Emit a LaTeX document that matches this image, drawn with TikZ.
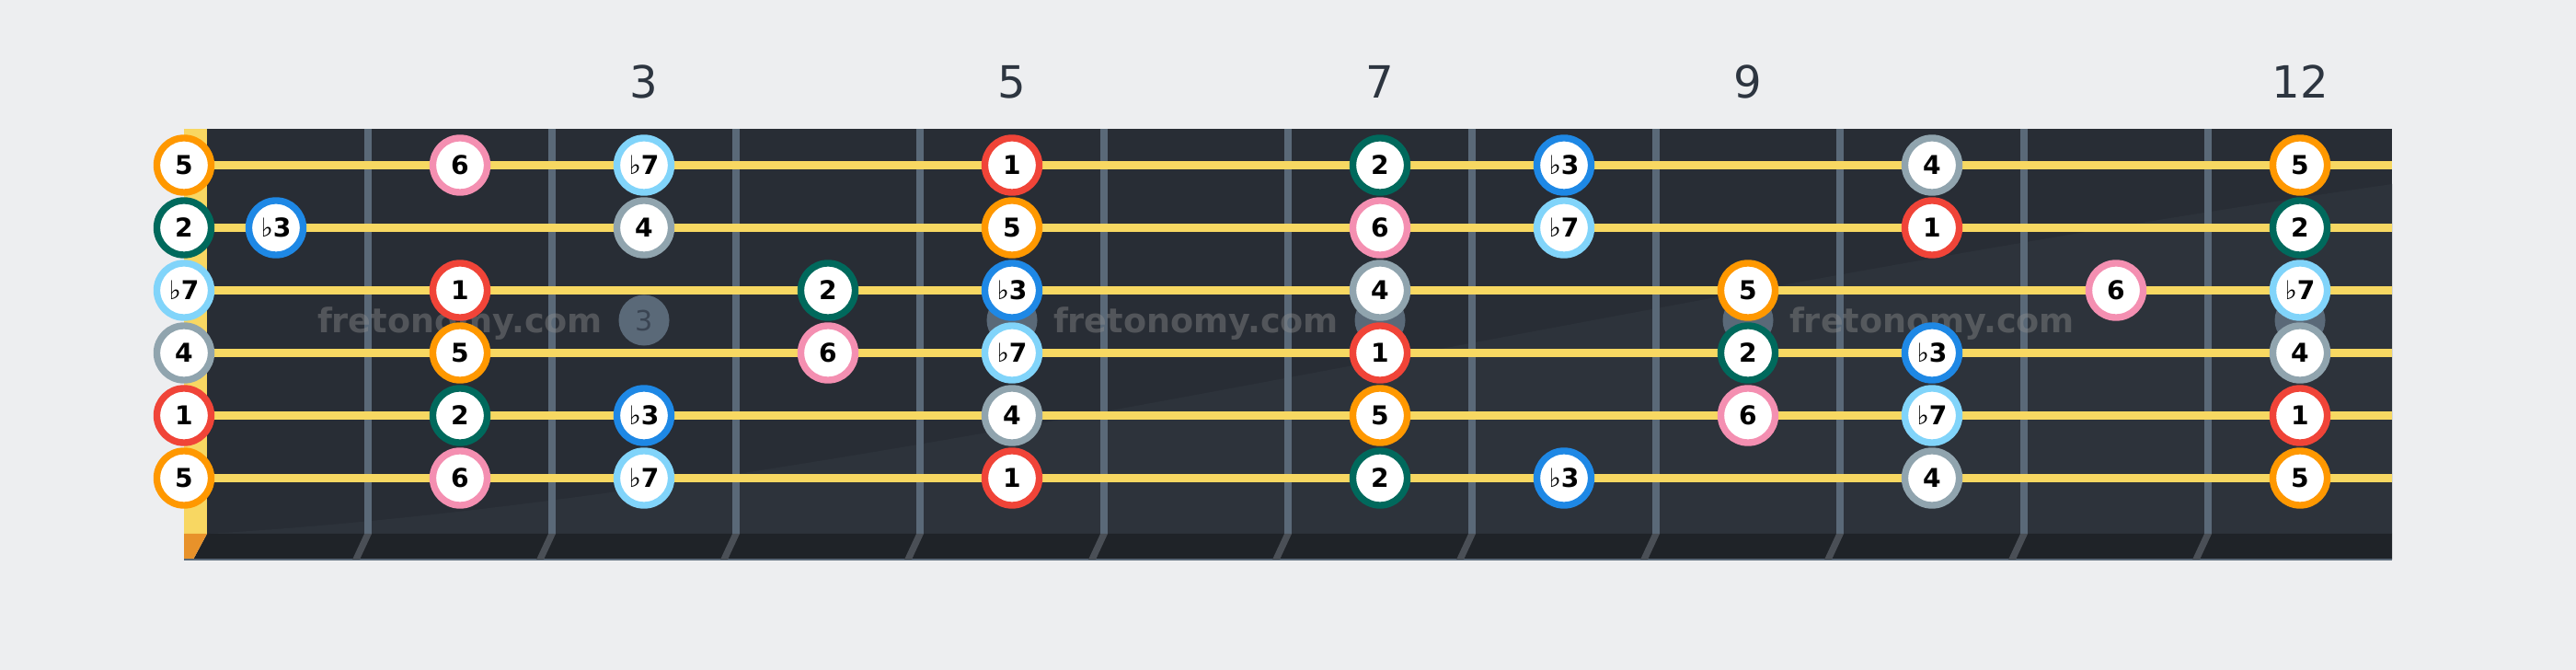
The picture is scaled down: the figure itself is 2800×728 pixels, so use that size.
\documentclass[tikz,border=0pt]{standalone}
\usepackage{fontspec}
\setmainfont{DejaVu Sans}
\definecolor{bg}{HTML}{EDEEF0}
\definecolor{board}{HTML}{282D35}
\definecolor{boardlt}{HTML}{2D333B}
\definecolor{strip}{HTML}{1F2328}
\definecolor{nutc}{HTML}{F8D762}
\definecolor{nutdark}{HTML}{E8922A}
\definecolor{wirec}{HTML}{5A6978}
\definecolor{wireshade}{HTML}{4A4F56}
\definecolor{strg}{HTML}{F7D862}
\definecolor{fretnum}{HTML}{2D3540}
\definecolor{dotc}{HTML}{5A6978}
\definecolor{dottxt}{HTML}{3A4452}
\definecolor{wmc}{HTML}{8E8E8E}
\definecolor{cR}{HTML}{F04438}
\definecolor{cT}{HTML}{00695C}
\definecolor{cB}{HTML}{1E88E5}
\definecolor{cG}{HTML}{90A4AE}
\definecolor{cO}{HTML}{FF9800}
\definecolor{cP}{HTML}{F48FB1}
\definecolor{cL}{HTML}{81D4FA}
\newcommand\flatsym{{\mdseries\smash{♭}}}
\begin{document}
\begin{tikzpicture}[x=0.01cm,y=-0.01cm,
  note/.style={circle,draw=#1,fill=white,line width=2.1pt,minimum size=0.59cm,inner sep=0pt,
    font=\fontsize{8}{9}\selectfont\bfseries,text=black},
  fretlabel/.style={anchor=base,font=\fontsize{13.7}{14}\selectfont,text=fretnum},
  wmark/.style={anchor=base,font=\fontsize{10.4}{11}\selectfont\bfseries,text=wmc,text opacity=0.42},
  inlay/.style={circle,fill=dotc,minimum size=0.55cm,inner sep=0pt,
    font=\fontsize{8.6}{9}\selectfont,text=dottxt},
  stringline/.style={strg,line width=2.3pt}]
\useasboundingbox (0,0) rectangle (2800,728);
\fill[bg] (0,0) rectangle (2800,728);
% board
\fill[board] (225,140) rectangle (2600,580);
\fill[boardlt] (225,580) .. controls (900,540) and (1700,330) .. (2600,200) -- (2600,580) -- cycle;
\fill[nutc] (200,140) rectangle (225,580);
\fill[strip] (225,580) -- (2600,580) -- (2600,608) -- (210,608) -- cycle;
\fill[nutdark] (200,580) -- (225,580) -- (210,608) -- (200,608) -- cycle;
\draw[wirec,line width=0.6pt] (200,608) -- (2600,608);
% fret wires
\foreach \k in {1,...,11}{
  \fill[wirec] ({200+200*\k-4},140) rectangle ({200+200*\k+4},580);
  \fill[wireshade] ({200+200*\k-4},580) -- ({200+200*\k+4},580) -- ({200+200*\k-9},608) -- ({200+200*\k-17},608) -- cycle;
}
% fret numbers
\foreach \f in {3,5,7,9,12}{
  \node[fretlabel] (fl\f) at ({100+200*\f},107) {\f};
}
% inlays
\node[inlay] (d3) at (700,348) {3};
\foreach \f in {5,7,9,12}{
  \node[inlay] (d\f) at ({100+200*\f},348) {};
}
% watermarks
\node[wmark] (w1) at (500,362) {fretonomy.com};
\node[wmark] (w2) at (1300,362) {fretonomy.com};
\node[wmark] (w3) at (2100,362) {fretonomy.com};
% strings
\foreach \s in {1,...,6}{
  \coordinate (sa\s) at (200,{179.5+68*(\s-1)});
  \coordinate (sb\s) at (2600,{179.5+68*(\s-1)});
  \draw[stringline] (sa\s) -- (sb\s);
}
% notes
\foreach \s/\f/\c/\t in {
  1/0/cO/5, 1/2/cP/6, 1/3/cL/{\flatsym7}, 1/5/cR/1, 1/7/cT/2, 1/8/cB/{\flatsym3}, 1/10/cG/4, 1/12/cO/5,
  2/0/cT/2, 2/1/cB/{\flatsym3}, 2/3/cG/4, 2/5/cO/5, 2/7/cP/6, 2/8/cL/{\flatsym7}, 2/10/cR/1, 2/12/cT/2,
  3/0/cL/{\flatsym7}, 3/2/cR/1, 3/4/cT/2, 3/5/cB/{\flatsym3}, 3/7/cG/4, 3/9/cO/5, 3/11/cP/6, 3/12/cL/{\flatsym7},
  4/0/cG/4, 4/2/cO/5, 4/4/cP/6, 4/5/cL/{\flatsym7}, 4/7/cR/1, 4/9/cT/2, 4/10/cB/{\flatsym3}, 4/12/cG/4,
  5/0/cR/1, 5/2/cT/2, 5/3/cB/{\flatsym3}, 5/5/cG/4, 5/7/cO/5, 5/9/cP/6, 5/10/cL/{\flatsym7}, 5/12/cR/1,
  6/0/cO/5, 6/2/cP/6, 6/3/cL/{\flatsym7}, 6/5/cR/1, 6/7/cT/2, 6/8/cB/{\flatsym3}, 6/10/cG/4, 6/12/cO/5}{
  \pgfmathsetmacro\xx{ifthenelse(\f==0,200,100+200*\f)}
  \pgfmathsetmacro\yy{179.5+68*(\s-1)}
  \node[note=\c] (n\s-\f) at (\xx,\yy) {\t};
}
\end{tikzpicture}
\end{document}
